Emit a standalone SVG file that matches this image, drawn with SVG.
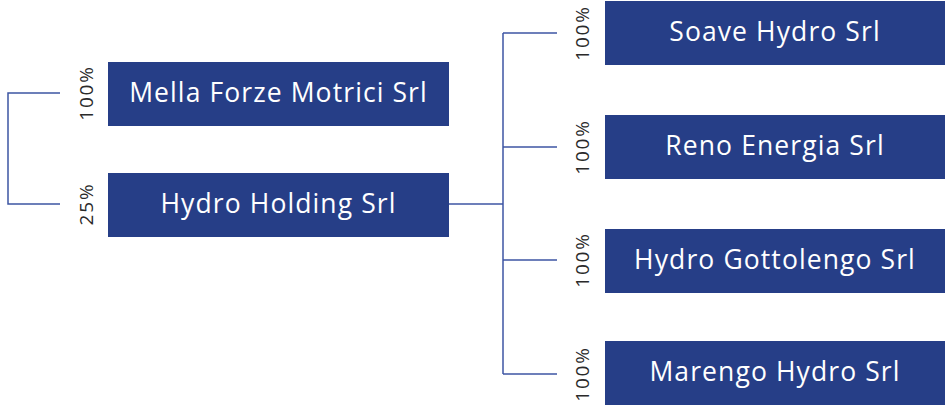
<svg xmlns="http://www.w3.org/2000/svg" width="945" height="413" viewBox="0 0 945 413">
<style>
.box{fill:#263e87}
.lbl{font-family:"Open Sans","Liberation Sans",sans-serif;font-size:26.5px;letter-spacing:1.1px;fill:#ffffff;text-anchor:middle}
.pct{font-family:"Open Sans","Liberation Sans",sans-serif;font-size:19px;letter-spacing:1.8px;fill:#2a2a2a;text-anchor:middle}
.ln{fill:none;stroke:#3d55a3;stroke-width:1.5}
</style>
<rect width="945" height="413" fill="#ffffff"/>
<g id="connectors">
<polyline class="ln" points="60,93 8,93 8,204 60,204"/>
<line class="ln" x1="449" y1="204" x2="503" y2="204"/>
<line class="ln" x1="503" y1="33" x2="503" y2="374"/>
<line class="ln" x1="503" y1="33" x2="557" y2="33"/>
<line class="ln" x1="503" y1="147" x2="557" y2="147"/>
<line class="ln" x1="503" y1="260" x2="557" y2="260"/>
<line class="ln" x1="503" y1="374" x2="557" y2="374"/>
<text class="pct" transform="translate(93,93) rotate(-90)">100%</text>
<text class="pct" transform="translate(93,204) rotate(-90)">25%</text>
<text class="pct" transform="translate(589,33) rotate(-90)">100%</text>
<text class="pct" transform="translate(589,147) rotate(-90)">100%</text>
<text class="pct" transform="translate(589,260) rotate(-90)">100%</text>
<text class="pct" transform="translate(589,374) rotate(-90)">100%</text>
</g>
<g id="mella"><rect class="box" x="108" y="62" width="341" height="64"/><text class="lbl" x="278.5" y="102">Mella Forze Motrici Srl</text></g>
<g id="hydroholding"><rect class="box" x="108" y="173" width="341" height="64"/><text class="lbl" x="278.5" y="213">Hydro Holding Srl</text></g>
<g id="soave"><rect class="box" x="605" y="1" width="340" height="64"/><text class="lbl" x="775" y="41">Soave Hydro Srl</text></g>
<g id="reno"><rect class="box" x="605" y="115" width="340" height="64"/><text class="lbl" x="775" y="155">Reno Energia Srl</text></g>
<g id="gottolengo"><rect class="box" x="605" y="229" width="340" height="64"/><text class="lbl" x="775" y="269">Hydro Gottolengo Srl</text></g>
<g id="marengo"><rect class="box" x="605" y="341" width="340" height="64"/><text class="lbl" x="775" y="381">Marengo Hydro Srl</text></g>
</svg>
